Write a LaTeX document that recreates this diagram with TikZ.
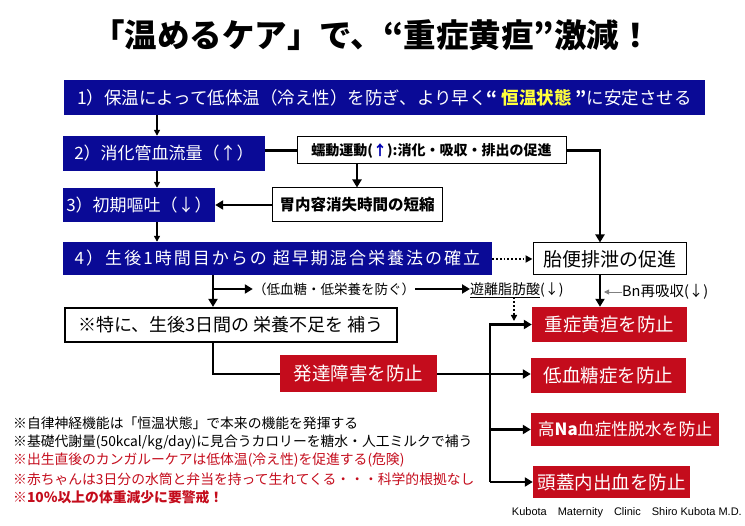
\documentclass[tikz,border=0pt]{standalone}
\usepackage{fontspec}
\setmainfont{Noto Sans CJK JP}
\newfontfamily\footfont{Liberation Sans}
\usetikzlibrary{arrows.meta}
\definecolor{navy}{RGB}{10,10,150}
\definecolor{alert}{RGB}{196,12,28}
\definecolor{warm}{RGB}{255,255,60}

\begin{document}
\begin{tikzpicture}[x=1pt,y=-1pt,
  bluebox/.style={fill=navy,text=white,inner sep=0pt,font=\fontsize{17}{17}\selectfont},
  redbox/.style={fill=alert,text=white,inner sep=0pt,font=\fontsize{18.5}{18.5}\selectfont},
  whitebox/.style={draw,line width=1pt,fill=white,inner sep=0pt},
  link/.style={line width=2.6pt},
  arrowlink/.style={link,-{Triangle[length=8pt,width=9pt]}},
  thinarrow/.style={line width=1.6pt,-{Triangle[length=6pt,width=6pt]}},
  note/.style={anchor=west,inner sep=0pt,font=\fontsize{13.8}{13.8}\selectfont}]
  \useasboundingbox (0,0) rectangle (745,526);
  % title
  \node[font=\fontsize{32.5}{32.5}\selectfont\bfseries] (title) at (372,35) {「温めるケア」で、“重症黄疸”激減！};
  % left chain 1) to 4)
  \node[bluebox,minimum width=641,minimum height=35,font=\fontsize{17.5}{17.5}\selectfont] (b1) at (384.5,97.5)
    {1）保温によって低体温（冷え性）を防ぎ、より早く{\bfseries “ \textcolor{warm}{恒温状態} ”}に安定させる};
  \node[bluebox,minimum width=202,minimum height=35] (b2) at (164,153.5) {2）消化管血流量（↑）};
  \node[bluebox,minimum width=152,minimum height=34] (b3) at (139,205) {3）初期嘔吐（↓）};
  \node[bluebox,minimum width=429,minimum height=33] (b4) at (277.5,258.5)
    {\addfontfeature{LetterSpace=12}4）生後1時間目からの 超早期混合栄養法の確立};
  % side boxes
  \node[whitebox,minimum width=269,minimum height=27,font=\fontsize{14}{14}\selectfont\bfseries] (peri) at (431.5,150.5)
    {蠕動運動(\textcolor{blue!70!black}{↑}):消化・吸収・排出の促進};
  \node[whitebox,minimum width=170,minimum height=34,font=\fontsize{15.5}{15.5}\selectfont\bfseries] (gast) at (357,205) {胃内容消失時間の短縮};
  \node[whitebox,minimum width=153,minimum height=32,font=\fontsize{19}{19}\selectfont] (meco) at (609.5,259) {胎便排泄の促進};
  \node[inner sep=0pt,font=\fontsize{13.5}{13.5}\selectfont] (hypo) at (334,289) {（低血糖・低栄養を防ぐ）};
  \node[inner sep=0pt,anchor=west,font=\fontsize{14}{14}\selectfont] (ffa) at (470,290) {\underline{遊離脂肪酸}(↓)};
  \node[inner sep=0pt,anchor=west,font=\fontsize{14.5}{14.5}\selectfont] (bn) at (622,292) {Bn再吸収(↓)};
  \node[whitebox,line width=2.2pt,minimum width=332,minimum height=34,font=\fontsize{18}{18}\selectfont] (nutr) at (231,325)
    {※特に、生後3日間の 栄養不足を 補う};
  % red outcomes
  \node[redbox,minimum width=157,minimum height=37] (dev) at (358.5,374) {発達障害を防止};
  \node[redbox,minimum width=155,minimum height=35] (jaund) at (609.5,324.5) {重症黄疸を防止};
  \node[redbox,minimum width=155,minimum height=35] (hypog) at (608.5,375.5) {低血糖症を防止};
  \node[redbox,minimum width=188,minimum height=33,font=\fontsize{16.8}{16.8}\selectfont] (hna) at (625,429.5) {高{\bfseries Na}血症性脱水を防止};
  \node[redbox,minimum width=157,minimum height=32] (ich) at (611.5,482) {頭蓋内出血を防止};
  % x positions of the vertical runs
  \coordinate (xa) at (157,0);
  \coordinate (xb) at (213,0);
  \coordinate (xc) at (600,0);
  \coordinate (xd) at (490,0);
  \coordinate (ffaend) at (514,321);
  \coordinate (bnend) at (604,292);
  % connectors
  \draw[thinarrow] (b1.south -| xa) -- (b2.north -| xa);
  \draw[thinarrow] (b2.south -| xa) -- (b3.north -| xa);
  \draw[thinarrow] (b3.south -| xa) -- (b4.north -| xa);
  \draw[link] (b2.east |- peri) -- (peri.west);
  \draw[arrowlink] (peri.east) -| (meco.north -| xc);
  \draw[arrowlink] (peri.south -| gast) -- (gast.north);
  \draw[arrowlink] (gast.west) -- (b3.east);
  \draw[line width=1.8pt,dotted,-{Triangle[length=7pt,width=7pt]}] (b4.east |- meco) -- (meco.west);
  \draw[arrowlink] (b4.south -| xb) -- (nutr.north -| xb);
  \draw[arrowlink] (hypo.west -| xb) -- (hypo.west);
  \draw[arrowlink] (hypo.east) -- (ffa.west |- hypo.east);
  \draw[line width=1.8pt,dotted,-{Triangle[length=6pt,width=6pt]}] (ffa.south -| ffaend) -- (ffaend);
  \draw[arrowlink] (meco.south -| xc) -- (jaund.north -| xc);
  \draw[gray,line width=0.8pt,-{Triangle[length=5pt,width=5pt]}] (bn.west) -- (bnend);
  \draw[link] (nutr.south -| xb) |- (dev.west);
  \draw[arrowlink] (dev.east) -- (hypog.west |- dev.east);
  \draw[arrowlink] (ich.west -| xd) |- (jaund.west);
  \draw[arrowlink] (hna.west -| xd) -- (hna.west);
  \draw[arrowlink] (ich.west -| xd) -- (ich.west);
  % notes
  \node[note] (n1) at (13,423) {※自律神経機能は「恒温状態」で本来の機能を発揮する};
  \node[note] (n2) at (13,442) {※基礎代謝量(50kcal/kg/day)に見合うカロリーを糖水・人工ミルクで補う};
  \node[note,text=alert] (n3) at (13,460) {※出生直後のカンガルーケアは低体温(冷え性)を促進する(危険)};
  \node[note,text=alert] (n4) at (13,479) {※赤ちゃんは3日分の水筒と弁当を持って生れてくる・・・科学的根拠なし};
  \node[note,text=alert,font=\fontsize{13.8}{13.8}\selectfont\bfseries] (n5) at (13,497) {※10％以上の体重減少に要警戒！};
  \node[anchor=east,inner sep=0pt,font=\footfont\fontsize{11}{11}\selectfont] (credit) at (742,513)
    {Kubota\quad Maternity\quad Clinic\quad Shiro Kubota M.D.};
\end{tikzpicture}
\end{document}
